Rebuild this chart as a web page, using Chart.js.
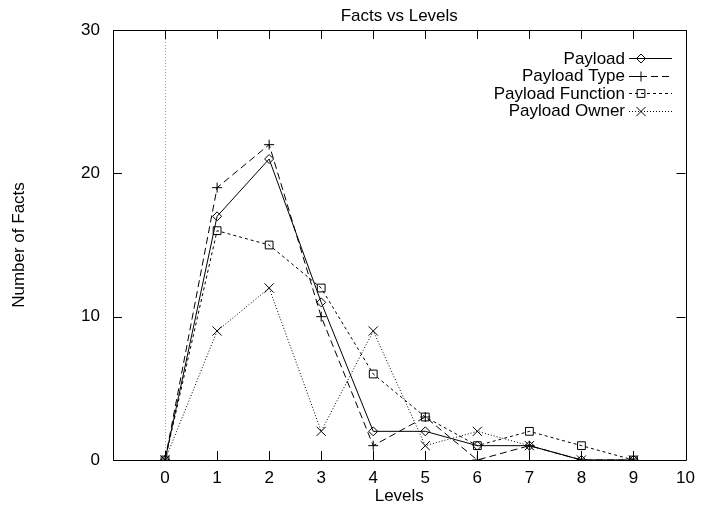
<!DOCTYPE html>
<html>
<head>
<meta charset="utf-8">
<script src="https://cdn.jsdelivr.net/npm/chart.js@4/dist/chart.umd.min.js"></script>
<style>
  html, body { margin: 0; padding: 0; background: #fff; }
  #wrap { width: 703px; height: 509px; }
</style>
</head>
<body>
<div id="wrap"><canvas id="factsChart" width="703" height="509"></canvas></div>
<script>
// data
const levels = [0, 1, 2, 3, 4, 5, 6, 7, 8, 9];
const payload = [0, 17, 21, 11, 2, 2, 1, 1, 0, 0];
const payloadType = [0, 19, 22, 10, 1, 3, 0, 1, 0, 0];
const payloadFunction = [0, 16, 15, 12, 6, 3, 1, 2, 1, 0];
const payloadOwner = [0, 9, 12, 2, 9, 1, 2, 1, 0, 0];

const xTicks = [0, 1, 2, 3, 4, 5, 6, 7, 8, 9, 10];
const yTicks = [0, 10, 20, 30];

const FONT = 'Liberation Sans, Arial, Helvetica, sans-serif';

function toPoints(values) {
    return levels.map((lvl, i) => ({ x: lvl, y: values[i] }));
}

function makeSet(label, values, dash, style, radius) {
    return {
        label: label,
        data: toPoints(values),
        borderColor: '#000',
        borderWidth: 1,
        borderDash: dash,
        pointStyle: style,
        pointRadius: radius,
        pointHoverRadius: radius,
        pointBorderColor: '#000',
        pointBackgroundColor: 'rgba(0,0,0,0)',
        pointBorderWidth: 1,
        fill: false,
        tension: 0
    };
}

// gnuplot-like frame: border, inward ticks (mirrored), zero axis, title and key
const gnuFrame = {
    id: 'gnuFrame',
    beforeDatasetsDraw(chart) {
        const { ctx, chartArea: a, scales } = chart;
        const x0 = scales.x.getPixelForValue(0);
        ctx.save();
        ctx.strokeStyle = '#a0a0a0';
        ctx.lineWidth = 1;
        ctx.setLineDash([1, 2]);
        ctx.beginPath();
        ctx.moveTo(Math.round(x0) + 0.5, a.top);
        ctx.lineTo(Math.round(x0) + 0.5, a.bottom);
        ctx.stroke();
        ctx.restore();
    },
    afterDatasetsDraw(chart) {
        const { ctx, chartArea: a, scales } = chart;
        const tick = 9;
        ctx.save();
        ctx.strokeStyle = '#000';
        ctx.lineWidth = 1;
        ctx.setLineDash([]);
        ctx.beginPath();
        ctx.rect(Math.round(a.left) + 0.5, Math.round(a.top) + 0.5,
                 Math.round(a.right - a.left), Math.round(a.bottom - a.top));
        xTicks.forEach(v => {
            const px = Math.round(scales.x.getPixelForValue(v)) + 0.5;
            ctx.moveTo(px, a.bottom);
            ctx.lineTo(px, a.bottom - tick);
            ctx.moveTo(px, a.top);
            ctx.lineTo(px, a.top + tick);
        });
        yTicks.forEach(v => {
            const py = Math.round(scales.y.getPixelForValue(v)) + 0.5;
            ctx.moveTo(a.left, py);
            ctx.lineTo(a.left + tick, py);
            ctx.moveTo(a.right, py);
            ctx.lineTo(a.right - tick, py);
        });
        ctx.stroke();

        // title
        ctx.fillStyle = '#000';
        ctx.font = '17px ' + FONT;
        ctx.textAlign = 'center';
        ctx.textBaseline = 'alphabetic';
        ctx.fillText('Facts vs Levels', (a.left + a.right) / 2, 21);

        // key
        const textRight = 625, lineL = 629, lineR = 672, markX = 641;
        const rows = [58, 75.5, 93, 110.5];
        chart.data.datasets.forEach((ds, i) => {
            const y = rows[i];
            ctx.textAlign = 'right';
            ctx.textBaseline = 'middle';
            ctx.font = '17px ' + FONT;
            ctx.fillStyle = '#000';
            ctx.fillText(ds.label, textRight, y + 1);
            ctx.setLineDash(ds.borderDash || []);
            ctx.beginPath();
            ctx.moveTo(lineL, Math.round(y) + 0.5);
            ctx.lineTo(lineR, Math.round(y) + 0.5);
            ctx.stroke();
            ctx.setLineDash([]);
            ctx.fillStyle = 'rgba(0,0,0,0)';
            Chart.helpers.drawPoint(ctx, {
                pointStyle: ds.pointStyle,
                radius: ds.pointRadius,
                rotation: 0,
                borderWidth: 1
            }, markX, Math.round(y) + 0.5);
        });
        ctx.restore();
    }
};

const ctx = document.getElementById('factsChart').getContext('2d');
new Chart(ctx, {
    type: 'line',
    data: {
        datasets: [
            makeSet('Payload', payload, [], 'rectRot', 4.5),
            makeSet('Payload Type', payloadType, [7, 4], 'cross', 5),
            makeSet('Payload Function', payloadFunction, [3, 3], 'rect', 5.5),
            makeSet('Payload Owner', payloadOwner, [1, 2], 'crossRot', 6.5)
        ]
    },
    options: {
        responsive: false,
        devicePixelRatio: 1,
        animation: false,
        layout: { padding: { top: 30, right: 12, left: 0, bottom: 0 } },
        plugins: {
            legend: { display: false },
            title: { display: false },
            tooltip: { enabled: false }
        },
        scales: {
            x: {
                type: 'linear',
                min: -1,
                max: 10,
                afterBuildTicks: (scale) => { scale.ticks = xTicks.map(v => ({ value: v })); },
                afterFit: (scale) => { scale.height = 49; },
                grid: { display: false, drawTicks: false },
                border: { display: false },
                ticks: { color: '#000', font: { family: FONT, size: 17 }, padding: 8, maxRotation: 0, autoSkip: false },
                title: { display: true, text: 'Levels', color: '#000', font: { family: FONT, size: 17 }, padding: { top: 0, bottom: 2 } }
            },
            y: {
                min: 0,
                max: 30,
                afterBuildTicks: (scale) => { scale.ticks = yTicks.map(v => ({ value: v })); },
                afterFit: (scale) => { scale.width = 113; },
                grid: { display: false, drawTicks: false },
                border: { display: false },
                ticks: { color: '#000', font: { family: FONT, size: 17 }, padding: 13 },
                title: { display: true, text: 'Number of Facts', color: '#000', font: { family: FONT, size: 17 }, padding: { top: 9, bottom: 0 } }
            }
        }
    },
    plugins: [gnuFrame]
});
</script>
</body>
</html>
